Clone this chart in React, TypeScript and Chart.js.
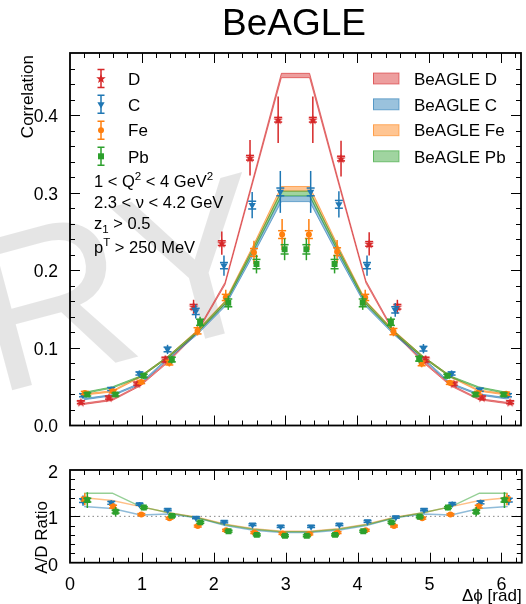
import React, { useEffect, useRef } from 'react';
import { Chart, registerables } from 'chart.js';

Chart.register(...registerables);

const FONT = '"Liberation Sans", Arial, Helvetica, sans-serif';
Chart.defaults.font.family = FONT;
Chart.defaults.color = '#000';

// ---------- data ----------
const TWO_PI = 6.2832;
const PHI_MID = 3.1416;
const BIN_CENTERS = [0.196, 0.589, 0.982, 1.374, 1.767, 2.160, 2.553, 2.945, 3.338, 3.731, 4.123, 4.516, 4.909, 5.301, 5.694, 6.087];

const D_VALUES = [0.030, 0.036, 0.054, 0.085, 0.153, 0.235, 0.345, 0.394, 0.394, 0.344, 0.234, 0.153, 0.085, 0.054, 0.036, 0.030];
const D_STAT = [0.002, 0.002, 0.003, 0.005, 0.009, 0.015, 0.023, 0.030, 0.030, 0.023, 0.015, 0.009, 0.005, 0.003, 0.002, 0.002];
const D_SYS = [0.002, 0.002, 0.002, 0.003, 0.003, 0.003, 0.003, 0.003, 0.003, 0.003, 0.003, 0.003, 0.003, 0.002, 0.002, 0.002];

const C_VALUES = [0.039, 0.047, 0.067, 0.098, 0.147, 0.206, 0.284, 0.301, 0.301, 0.285, 0.206, 0.149, 0.099, 0.067, 0.046, 0.039];
const C_STAT = [0.003, 0.003, 0.004, 0.006, 0.009, 0.013, 0.017, 0.027, 0.027, 0.017, 0.013, 0.009, 0.006, 0.004, 0.003, 0.003];
const C_SYS = [0.002, 0.002, 0.002, 0.003, 0.004, 0.004, 0.005, 0.005, 0.005, 0.005, 0.004, 0.004, 0.003, 0.002, 0.002, 0.002];

const FE_VALUES = [0.042, 0.044, 0.056, 0.081, 0.122, 0.165, 0.223, 0.246, 0.246, 0.224, 0.165, 0.121, 0.080, 0.055, 0.042, 0.041];
const FE_STAT = [0.003, 0.003, 0.003, 0.005, 0.006, 0.010, 0.015, 0.020, 0.020, 0.015, 0.010, 0.006, 0.005, 0.003, 0.003, 0.003];
const FE_SYS = [0.002, 0.002, 0.002, 0.003, 0.004, 0.004, 0.005, 0.005, 0.005, 0.005, 0.004, 0.004, 0.003, 0.002, 0.002, 0.002];

const PB_VALUES = [0.040, 0.040, 0.064, 0.085, 0.133, 0.158, 0.208, 0.227, 0.227, 0.208, 0.158, 0.133, 0.086, 0.064, 0.040, 0.040];
const PB_STAT = [0.003, 0.003, 0.004, 0.005, 0.007, 0.009, 0.012, 0.014, 0.014, 0.012, 0.009, 0.007, 0.005, 0.004, 0.003, 0.003];
const PB_SYS = [0.002, 0.002, 0.002, 0.003, 0.004, 0.005, 0.006, 0.006, 0.006, 0.006, 0.005, 0.004, 0.003, 0.002, 0.002, 0.002];

// BeAGLE model curves and their band half-widths
const MODEL_D = [0.028, 0.033, 0.052, 0.083, 0.120, 0.183, 0.317, 0.451, 0.451, 0.317, 0.185, 0.120, 0.083, 0.052, 0.034, 0.029];
const MODEL_C = [0.034, 0.039, 0.054, 0.087, 0.118, 0.155, 0.222, 0.292, 0.292, 0.222, 0.155, 0.118, 0.087, 0.054, 0.040, 0.035];
const MODEL_FE = [0.040, 0.044, 0.063, 0.089, 0.121, 0.159, 0.230, 0.305, 0.305, 0.230, 0.159, 0.121, 0.089, 0.063, 0.045, 0.040];
const MODEL_PB = [0.042, 0.049, 0.063, 0.089, 0.120, 0.158, 0.227, 0.299, 0.299, 0.227, 0.158, 0.120, 0.089, 0.063, 0.049, 0.042];
const MODEL_D_ERR = [0.0008, 0.0008, 0.0009, 0.0010, 0.0012, 0.0015, 0.0020, 0.0028, 0.0028, 0.0020, 0.0015, 0.0012, 0.0010, 0.0009, 0.0008, 0.0008];
const MODEL_C_ERR = [0.0008, 0.0008, 0.0009, 0.0010, 0.0013, 0.0016, 0.0022, 0.0035, 0.0035, 0.0022, 0.0016, 0.0013, 0.0010, 0.0009, 0.0008, 0.0008];
const MODEL_FE_ERR = [0.0008, 0.0008, 0.0009, 0.0010, 0.0013, 0.0016, 0.0022, 0.0030, 0.0030, 0.0022, 0.0016, 0.0013, 0.0010, 0.0009, 0.0008, 0.0008];
const MODEL_PB_ERR = [0.0008, 0.0008, 0.0009, 0.0010, 0.0013, 0.0016, 0.0022, 0.0030, 0.0030, 0.0022, 0.0016, 0.0013, 0.0010, 0.0009, 0.0008, 0.0008];

// A/D ratios
const RATIO_C = [1.34, 1.29, 1.26, 1.14, 0.97, 0.88, 0.82, 0.78, 0.78, 0.82, 0.89, 0.98, 1.14, 1.27, 1.30, 1.35];
const RATIO_FE = [1.37, 1.21, 1.04, 0.96, 0.79, 0.70, 0.65, 0.63, 0.62, 0.65, 0.70, 0.79, 0.96, 1.04, 1.21, 1.37];
const RATIO_PB = [1.35, 1.10, 1.19, 1.01, 0.87, 0.68, 0.60, 0.58, 0.58, 0.60, 0.68, 0.87, 0.99, 1.19, 1.10, 1.35];
const RATIO_C_ERR = [0.11, 0.06, 0.05, 0.04, 0.03, 0.03, 0.03, 0.03, 0.03, 0.03, 0.03, 0.03, 0.04, 0.05, 0.06, 0.11];
const RATIO_FE_ERR = [0.13, 0.07, 0.05, 0.04, 0.03, 0.03, 0.03, 0.03, 0.03, 0.03, 0.03, 0.03, 0.04, 0.05, 0.07, 0.13];
const RATIO_PB_ERR = [0.17, 0.10, 0.06, 0.04, 0.03, 0.03, 0.03, 0.03, 0.03, 0.03, 0.03, 0.03, 0.04, 0.06, 0.10, 0.17];
const RATIO_SYS = [0.04, 0.03, 0.02, 0.02, 0.02, 0.02, 0.02, 0.02, 0.02, 0.02, 0.02, 0.02, 0.02, 0.02, 0.03, 0.04];

const RMODEL_C = [1.21, 1.17, 1.03, 1.05, 0.97, 0.80, 0.70, 0.65, 0.65, 0.70, 0.80, 0.97, 1.05, 1.03, 1.17, 1.21];
const RMODEL_FE = [1.40, 1.34, 1.21, 1.08, 0.98, 0.83, 0.73, 0.68, 0.68, 0.73, 0.83, 0.98, 1.08, 1.21, 1.34, 1.40];
const RMODEL_PB = [1.50, 1.50, 1.21, 1.08, 0.97, 0.82, 0.72, 0.67, 0.67, 0.72, 0.82, 0.97, 1.08, 1.21, 1.50, 1.50];

// point offsets (outward from pi)
const OFFSET_D = 0.045;
const OFFSET_C = 0.015;
const OFFSET_FE = -0.01;
const OFFSET_PB = -0.045;

// ticks
const X_TICKS = [0, 1, 2, 3, 4, 5, 6];
const X_MINOR_STEP = 0.2;
const Y_MAIN_TICKS = [0, 0.1, 0.2, 0.3, 0.4];
const Y_MAIN_MINOR_STEP = 0.02;
const Y_RATIO_TICKS = [0, 1, 2];
const Y_RATIO_MINOR_STEP = 0.2;

const SERIES_NAMES = ['D', 'C', 'Fe', 'Pb'];
const MODEL_NAMES = ['BeAGLE D', 'BeAGLE C', 'BeAGLE Fe', 'BeAGLE Pb'];
const CUT_LINES = [
  [{ t: '1 < Q' }, { t: '2', sup: true }, { t: ' < 4 GeV' }, { t: '2', sup: true }],
  [{ t: '2.3 < ν < 4.2 GeV' }],
  [{ t: 'z' }, { t: '1', sub: true }, { t: ' > 0.5' }],
  [{ t: 'p' }, { t: 'T', sup: true }, { t: ' > 250 MeV' }],
];

// ---------- styling ----------
const RED = [214, 39, 40];
const BLUE = [31, 119, 180];
const ORANGE = [255, 127, 14];
const GREEN = [44, 160, 44];
const COLORS = [RED, BLUE, ORANGE, GREEN];
const rgba = (c: number[], a = 1) => `rgba(${c[0]},${c[1]},${c[2]},${a})`;

function starPath(ctx: CanvasRenderingContext2D, cx: number, cy: number, ro: number, ri: number) {
  ctx.beginPath();
  for (let i = 0; i < 10; i++) {
    const r = i % 2 === 0 ? ro : ri;
    const a = -Math.PI / 2 + (i * Math.PI) / 5;
    const px = cx + r * Math.cos(a);
    const py = cy + r * Math.sin(a);
    if (i === 0) ctx.moveTo(px, py);
    else ctx.lineTo(px, py);
  }
  ctx.closePath();
}

function makeStar(color: string) {
  const c = document.createElement('canvas');
  c.width = 12;
  c.height = 12;
  const g = c.getContext('2d')!;
  g.fillStyle = color;
  starPath(g, 6, 6.4, 5, 2.1);
  g.fill();
  return c;
}

function drawMarker(ctx: CanvasRenderingContext2D, kind: number, x: number, y: number, color: string) {
  ctx.fillStyle = color;
  if (kind === 0) {
    starPath(ctx, x, y + 0.4, 5, 2.1);
    ctx.fill();
  } else if (kind === 1) {
    const r = 4.2;
    ctx.beginPath();
    ctx.moveTo(x - r * 0.866, y - r * 0.5);
    ctx.lineTo(x + r * 0.866, y - r * 0.5);
    ctx.lineTo(x, y + r);
    ctx.closePath();
    ctx.fill();
  } else if (kind === 2) {
    ctx.beginPath();
    ctx.arc(x, y, 3, 0, Math.PI * 2);
    ctx.fill();
  } else {
    ctx.fillRect(x - 3, y - 3, 6, 6);
  }
}

const outward = (x: number) => (x < PHI_MID ? -1 : 1);

function pointData(values: number[], stat: number[], sys: number[], off: number) {
  return BIN_CENTERS.map((x, i) => ({ x: x + outward(x) * off, y: values[i], e: stat[i], s: sys[i] }));
}

function lineData(values: number[], shift?: number[], sign = 0) {
  return BIN_CENTERS.map((x, i) => ({ x, y: values[i] + (shift ? sign * shift[i] : 0) }));
}

function minorList(max: number, step: number) {
  const out: number[] = [];
  for (let v = 0; v <= max + 1e-9; v += step) out.push(Math.round(v * 1000) / 1000);
  return out;
}

// ---------- plugins ----------
const errorBarPlugin = {
  id: 'errbars',
  beforeDatasetDraw(chart: any, args: any) {
    const ds = chart.data.datasets[args.index];
    if (!ds.errColor) return;
    const { ctx } = chart;
    const xs = chart.scales.x;
    const ys = chart.scales.y;
    ctx.save();
    ctx.strokeStyle = ds.errColor;
    ctx.lineWidth = 1.5;
    ds.data.forEach((p: any) => {
      const px = xs.getPixelForValue(p.x);
      ctx.beginPath();
      ctx.moveTo(px, ys.getPixelForValue(p.y + p.e));
      ctx.lineTo(px, ys.getPixelForValue(p.y - p.e));
      ctx.stroke();
      if (p.s) {
        [p.y + p.s, p.y - p.s].forEach((v) => {
          const py = ys.getPixelForValue(v);
          ctx.beginPath();
          ctx.moveTo(px - 4, py);
          ctx.lineTo(px + 4, py);
          ctx.stroke();
        });
      }
    });
    ctx.restore();
  },
};

const framePlugin = {
  id: 'frame',
  afterDatasetsDraw(chart: any, _args: any, opts: any) {
    const { ctx, chartArea: ca } = chart;
    const xs = chart.scales.x;
    const ys = chart.scales.y;
    ctx.save();
    ctx.strokeStyle = '#000';
    ctx.lineWidth = 1;
    const xMinor = minorList(opts.xMax, opts.xMinorStep);
    const yMinor = minorList(opts.yMax, opts.yMinorStep);
    const drawX = (vals: number[], len: number) => {
      vals.forEach((v) => {
        const px = Math.round(xs.getPixelForValue(v)) + 0.5;
        if (px < ca.left + 1 || px > ca.right - 1) return;
        ctx.beginPath();
        ctx.moveTo(px, ca.bottom);
        ctx.lineTo(px, ca.bottom - len);
        ctx.moveTo(px, ca.top);
        ctx.lineTo(px, ca.top + len);
        ctx.stroke();
      });
    };
    const drawY = (vals: number[], len: number) => {
      vals.forEach((v) => {
        const py = Math.round(ys.getPixelForValue(v)) + 0.5;
        if (py < ca.top + 1 || py > ca.bottom - 1) return;
        ctx.beginPath();
        ctx.moveTo(ca.left, py);
        ctx.lineTo(ca.left + len, py);
        ctx.moveTo(ca.right, py);
        ctx.lineTo(ca.right - len, py);
        ctx.stroke();
      });
    };
    drawX(xMinor, 5);
    drawX(opts.xMajor, 10);
    drawY(yMinor, 5);
    drawY(opts.yMajor, 10);
    ctx.lineWidth = 1.8;
    ctx.strokeRect(ca.left, ca.top, ca.right - ca.left, ca.bottom - ca.top);
    ctx.restore();
  },
};

function drawRich(ctx: CanvasRenderingContext2D, x: number, y: number, parts: any[], size: number) {
  let cx = x;
  parts.forEach((p) => {
    const fs = p.sup || p.sub ? size * 0.7 : size;
    ctx.font = `${fs}px ${FONT}`;
    const dy = p.sup ? -size * 0.42 : p.sub ? size * 0.25 : 0;
    ctx.fillText(p.t, cx, y + dy);
    cx += ctx.measureText(p.t).width;
  });
}

const mainDecorPlugin = {
  id: 'mainDecor',
  beforeDatasetsDraw(chart: any) {
    const { ctx } = chart;
    ctx.save();
    ctx.translate(286, 317);
    ctx.rotate(-15 * Math.PI / 180);
    ctx.font = `220px ${FONT}`;
    ctx.fillStyle = 'rgba(0,0,0,0.1)';
    ctx.textAlign = 'right';
    ctx.textBaseline = 'alphabetic';
    ctx.fillText('PRELIMINARY', 0, 0);
    ctx.restore();
  },
  afterDraw(chart: any) {
    const { ctx } = chart;
    ctx.save();
    ctx.fillStyle = '#000';
    // title
    ctx.font = `37px ${FONT}`;
    ctx.textAlign = 'center';
    ctx.textBaseline = 'alphabetic';
    ctx.fillText('BeAGLE', 294, 35);
    // y label
    ctx.save();
    ctx.translate(28, 55);
    ctx.rotate(-Math.PI / 2);
    ctx.font = `17px ${FONT}`;
    ctx.textAlign = 'right';
    ctx.textBaseline = 'middle';
    ctx.fillText('Correlation', 0, 0);
    ctx.restore();
    // legends
    const rows = [78.5, 104.3, 130.2, 156.3];
    ctx.textAlign = 'left';
    ctx.textBaseline = 'alphabetic';
    rows.forEach((ry, i) => {
      const col = rgba(COLORS[i]);
      ctx.strokeStyle = col;
      ctx.lineWidth = 1.5;
      ctx.beginPath();
      ctx.moveTo(101, ry - 9);
      ctx.lineTo(101, ry + 9);
      ctx.moveTo(97.5, ry - 9);
      ctx.lineTo(104.5, ry - 9);
      ctx.moveTo(97.5, ry + 9);
      ctx.lineTo(104.5, ry + 9);
      ctx.stroke();
      drawMarker(ctx, i, 101, ry, col);
      ctx.fillStyle = '#000';
      ctx.font = `17px ${FONT}`;
      ctx.fillText(SERIES_NAMES[i], 128, ry + 6.2);
      // model legend
      ctx.fillStyle = rgba(COLORS[i], 0.45);
      ctx.fillRect(373, ry - 5.5, 26, 11);
      ctx.strokeStyle = rgba(COLORS[i], 0.55);
      ctx.lineWidth = 1;
      ctx.strokeRect(373.5, ry - 5.5, 25.5, 11);
      ctx.fillStyle = '#000';
      ctx.fillText(MODEL_NAMES[i], 414, ry + 6.2);
    });
    const baselines = [186.5, 207.5, 228.5, 252.5];
    CUT_LINES.forEach((parts, i) => drawRich(ctx, 94, baselines[i], parts, 16.5));
    ctx.restore();
  },
};

const ratioDecorPlugin = {
  id: 'ratioDecor',
  afterDraw(chart: any) {
    const { ctx } = chart;
    ctx.save();
    ctx.fillStyle = '#000';
    ctx.font = `17px ${FONT}`;
    ctx.save();
    ctx.translate(42.5, 97.5);
    ctx.rotate(-Math.PI / 2);
    ctx.textAlign = 'center';
    ctx.textBaseline = 'middle';
    ctx.fillText('A/D Ratio', 0, 0);
    ctx.restore();
    ctx.textAlign = 'left';
    ctx.textBaseline = 'alphabetic';
    ctx.fillText('Δϕ [rad]', 462, 161);
    ctx.restore();
  },
};

// ---------- configs ----------
function bandDatasets(values: number[], band: number[], color: number[], order: number) {
  return [
    {
      type: 'line',
      data: lineData(values, band, -1),
      borderColor: rgba(color, 0.6),
      borderWidth: 1,
      pointRadius: 0,
      fill: false,
      tension: 0,
      order,
    },
    {
      type: 'line',
      data: lineData(values, band, 1),
      borderColor: rgba(color, 0.6),
      backgroundColor: rgba(color, 0.45),
      borderWidth: 1,
      pointRadius: 0,
      fill: '-1',
      tension: 0,
      order,
    },
  ];
}

function scatterDataset(data: any[], color: number[], style: any, radius: number, order: number, rotation = 0) {
  return {
    type: 'scatter',
    data,
    pointStyle: style,
    pointRadius: radius,
    pointRotation: rotation,
    backgroundColor: rgba(color),
    borderColor: rgba(color),
    borderWidth: 0,
    errColor: rgba(color),
    showLine: false,
    order,
  };
}

function mainConfig(): any {
  return {
    type: 'scatter',
    data: {
      datasets: [
        ...bandDatasets(MODEL_D, MODEL_D_ERR, RED, 13),
        ...bandDatasets(MODEL_C, MODEL_C_ERR, BLUE, 12),
        ...bandDatasets(MODEL_FE, MODEL_FE_ERR, ORANGE, 11),
        ...bandDatasets(MODEL_PB, MODEL_PB_ERR, GREEN, 10),
        scatterDataset(pointData(D_VALUES, D_STAT, D_SYS, OFFSET_D), RED, makeStar(rgba(RED)), 5, 3),
        scatterDataset(pointData(C_VALUES, C_STAT, C_SYS, OFFSET_C), BLUE, 'triangle', 4.2, 2, 180),
        scatterDataset(pointData(FE_VALUES, FE_STAT, FE_SYS, OFFSET_FE), ORANGE, 'circle', 3, 1),
        scatterDataset(pointData(PB_VALUES, PB_STAT, PB_SYS, OFFSET_PB), GREEN, 'rect', 4.2, 0),
      ],
    },
    options: {
      responsive: false,
      devicePixelRatio: 1,
      animation: false,
      events: [],
      layout: { padding: { left: 0, right: 4, top: 53, bottom: 14.5 } },
      plugins: {
        legend: { display: false },
        tooltip: { enabled: false },
        frame: {
          xMajor: X_TICKS, xMinorStep: X_MINOR_STEP, xMax: TWO_PI,
          yMajor: Y_MAIN_TICKS, yMinorStep: Y_MAIN_MINOR_STEP, yMax: 0.48,
        },
      },
      scales: {
        x: { type: 'linear', min: 0, max: TWO_PI, display: false },
        y: {
          type: 'linear',
          min: 0,
          max: 0.48,
          afterFit: (s: any) => { s.width = 70; },
          afterBuildTicks: (s: any) => { s.ticks = Y_MAIN_TICKS.map((v) => ({ value: v })); },
          grid: { display: false },
          border: { display: false },
          ticks: {
            font: { size: 17.5 },
            padding: 4,
            labelOffset: 2,
            callback: (v: any) => Number(v).toFixed(1),
          },
        },
      },
    },
    plugins: [mainDecorPlugin, errorBarPlugin, framePlugin],
  };
}

function ratioLine(values: number[], color: number[], order: number) {
  return {
    type: 'line',
    data: lineData(values),
    borderColor: rgba(color, 0.5),
    borderWidth: 1.5,
    pointRadius: 0,
    fill: false,
    tension: 0,
    order,
  };
}

function ratioPoints(values: number[], err: number[], off: number) {
  return BIN_CENTERS.map((x, i) => ({ x: x + outward(x) * off, y: values[i], e: err[i], s: RATIO_SYS[i] }));
}

function ratioConfig(): any {
  return {
    type: 'scatter',
    data: {
      datasets: [
        {
          type: 'line',
          data: [{ x: 0, y: 1 }, { x: TWO_PI, y: 1 }],
          borderColor: 'rgba(120,120,120,0.9)',
          borderDash: [1.5, 3],
          borderWidth: 1,
          pointRadius: 0,
          fill: false,
          order: 20,
        },
        ratioLine(RMODEL_C, BLUE, 12),
        ratioLine(RMODEL_FE, ORANGE, 11),
        ratioLine(RMODEL_PB, GREEN, 10),
        scatterDataset(ratioPoints(RATIO_C, RATIO_C_ERR, OFFSET_C), BLUE, 'triangle', 4.2, 2, 180),
        scatterDataset(ratioPoints(RATIO_FE, RATIO_FE_ERR, OFFSET_FE), ORANGE, 'circle', 3, 1),
        scatterDataset(ratioPoints(RATIO_PB, RATIO_PB_ERR, OFFSET_PB), GREEN, 'rect', 4.2, 0),
      ],
    },
    options: {
      responsive: false,
      devicePixelRatio: 1,
      animation: false,
      events: [],
      layout: { padding: { left: 0, right: 4, top: 30, bottom: 0 } },
      plugins: {
        legend: { display: false },
        tooltip: { enabled: false },
        frame: {
          xMajor: X_TICKS, xMinorStep: X_MINOR_STEP, xMax: TWO_PI,
          yMajor: Y_RATIO_TICKS, yMinorStep: Y_RATIO_MINOR_STEP, yMax: 2,
        },
      },
      scales: {
        x: {
          type: 'linear',
          min: 0,
          max: TWO_PI,
          afterFit: (s: any) => { s.height = 41.3; },
          afterBuildTicks: (s: any) => { s.ticks = X_TICKS.map((v) => ({ value: v })); },
          grid: { display: false },
          border: { display: false },
          ticks: { font: { size: 18 }, padding: 4, autoSkip: false, maxRotation: 0, minRotation: 0, callback: (v: any) => String(v) },
        },
        y: {
          type: 'linear',
          min: 0,
          max: 2,
          afterFit: (s: any) => { s.width = 70; },
          afterBuildTicks: (s: any) => { s.ticks = Y_RATIO_TICKS.map((v) => ({ value: v })); },
          grid: { display: false },
          border: { display: false },
          ticks: { font: { size: 18 }, padding: 4, labelOffset: 3, callback: (v: any) => String(v) },
        },
      },
    },
    plugins: [errorBarPlugin, framePlugin, ratioDecorPlugin],
  };
}

export default function App() {
  const mainRef = useRef<HTMLCanvasElement>(null);
  const ratioRef = useRef<HTMLCanvasElement>(null);
  useEffect(() => {
    const c1 = new Chart(mainRef.current as HTMLCanvasElement, mainConfig());
    const c2 = new Chart(ratioRef.current as HTMLCanvasElement, ratioConfig());
    return () => {
      c1.destroy();
      c2.destroy();
    };
  }, []);
  return (
    <div style={{ position: 'fixed', left: 0, top: 0, width: 526, height: 604, background: '#fff', overflow: 'hidden' }}>
      <canvas ref={mainRef} width={526} height={440} style={{ position: 'absolute', left: 0, top: 0, width: 526, height: 440 }} />
      <canvas ref={ratioRef} width={526} height={164} style={{ position: 'absolute', left: 0, top: 440, width: 526, height: 164 }} />
    </div>
  );
}
